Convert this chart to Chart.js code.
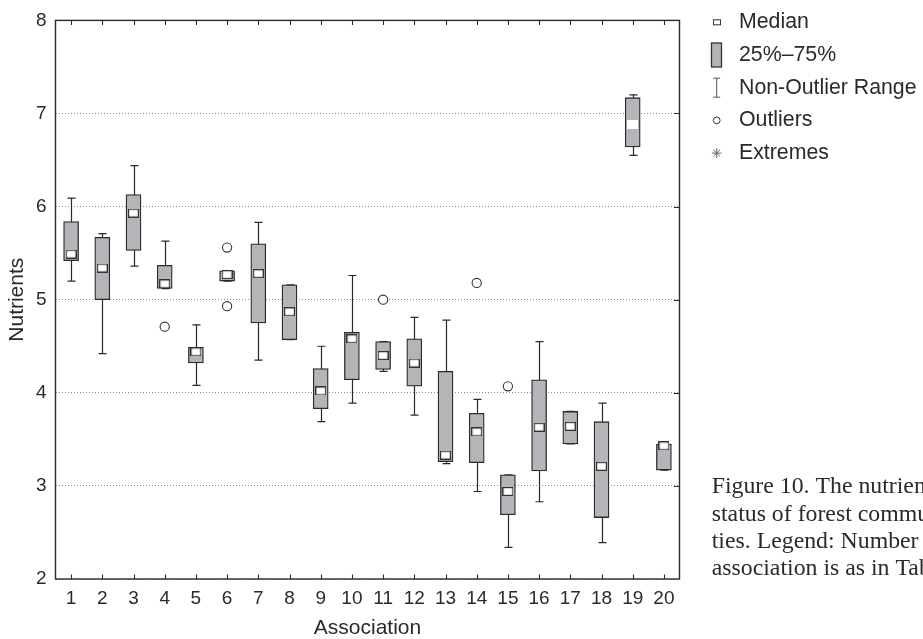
<!DOCTYPE html>
<html>
<head>
<meta charset="utf-8">
<script src="https://cdn.jsdelivr.net/npm/chart.js@4/dist/chart.umd.min.js"></script>
<style>
  html, body { margin: 0; padding: 0; background: #fff; }
  canvas { display: block; }
</style>
</head>
<body>
<canvas id="boxChart" width="923" height="639" style="width:923px;height:639px"></canvas>
<script>
"use strict";

// Association numbers (x categories)
const associations = ["1","2","3","4","5","6","7","8","9","10","11","12","13","14","15","16","17","18","19","20"];

// box plot statistics per association
const whiskerHigh = [6.09, 5.71, 6.44, 5.63, 4.73, 5.31, 5.83, 5.16, 4.50, 5.26, 4.55, 4.81, 4.78, 3.93, 3.12, 4.55, 3.80, 3.89, 7.20, 3.45];
const quartile3   = [5.84, 5.67, 6.13, 5.37, 4.49, 5.31, 5.60, 5.16, 4.26, 4.65, 4.55, 4.58, 4.23, 3.78, 3.12, 4.14, 3.80, 3.69, 7.17, 3.45];
const medians     = [5.49, 5.34, 5.93, 5.17, 4.44, 5.27, 5.28, 4.87, 4.02, 4.58, 4.40, 4.32, 3.33, 3.58, 2.94, 3.63, 3.64, 3.21, 6.88, 3.43];
const quartile1   = [5.42, 5.00, 5.53, 5.12, 4.32, 5.20, 4.75, 4.57, 3.83, 4.14, 4.25, 4.07, 3.26, 3.25, 2.69, 3.16, 3.45, 2.66, 6.64, 3.17];
const whiskerLow  = [5.20, 4.42, 5.36, 5.12, 4.08, 5.20, 4.35, 4.57, 3.69, 3.89, 4.23, 3.76, 3.24, 2.94, 2.34, 2.83, 3.45, 2.39, 6.55, 3.17];

// outliers
const outlierAssoc  = ["4", "6", "6", "11", "14", "15"];
const outlierValues = [4.71, 5.56, 4.93, 5.00, 5.18, 4.07];

// y axis
const yMin = 2;
const yMax = 8;

// legend + caption text
const legendLabels = ["Median", "25%\u201375%", "Non-Outlier Range", "Outliers", "Extremes"];
const captionLines = [
    "Figure 10. The nutrient",
    "status of forest communi-",
    "ties. Legend: Number of",
    "association is as in Table 1."
];

const BOX_FILL = "#b4b5b8";
const INK = "#2a2a2a";
const SANS = '"Liberation Sans", Arial, sans-serif';

Chart.defaults.font.family = SANS;
Chart.defaults.color = INK;

/**
 * Skapar en liten rektangel som punktstil för medianen.
 */
function medianMarker(border) {
    const c = document.createElement("canvas");
    c.width = 11;
    c.height = 9;
    const g = c.getContext("2d");
    g.fillStyle = "#fff";
    g.fillRect(0, 0, 11, 9);
    g.strokeStyle = border;
    g.lineWidth = 1.2;
    g.strokeRect(0.6, 0.6, 9.8, 7.8);
    return c;
}
const markerDark = medianMarker("#333");
const markerPlain = medianMarker("#fff");

/**
 * Ritar morrhår (whiskers) bakom lådorna.
 */
const whiskerPlugin = {
    id: "whiskers",
    beforeDatasetsDraw(chart) {
        const {ctx, scales: {x, y}} = chart;
        ctx.save();
        ctx.strokeStyle = INK;
        ctx.lineWidth = 1.2;
        associations.forEach((a, i) => {
            const px = Math.round(x.getPixelForValue(i)) + 0.5;
            const top = y.getPixelForValue(whiskerHigh[i]);
            const bot = y.getPixelForValue(whiskerLow[i]);
            ctx.beginPath();
            ctx.moveTo(px, top);
            ctx.lineTo(px, bot);
            ctx.moveTo(px - 4, top);
            ctx.lineTo(px + 4, top);
            ctx.moveTo(px - 4, bot);
            ctx.lineTo(px + 4, bot);
            ctx.stroke();
        });
        ctx.restore();
    }
};

/**
 * Ram, inre tickmarkeringar, legend och figurtext.
 */
const framePlugin = {
    id: "frame",
    afterDraw(chart) {
        const {ctx, chartArea: area, scales: {x, y}} = chart;
        ctx.save();

        // frame
        ctx.strokeStyle = INK;
        ctx.lineWidth = 1.4;
        ctx.strokeRect(area.left, area.top, area.right - area.left, area.bottom - area.top);

        // inward ticks
        ctx.lineWidth = 1.1;
        ctx.beginPath();
        associations.forEach((a, i) => {
            const px = Math.round(x.getPixelForValue(i)) + 0.5;
            ctx.moveTo(px, area.bottom);
            ctx.lineTo(px, area.bottom - 4.5);
            ctx.moveTo(px, area.top);
            ctx.lineTo(px, area.top + 4.5);
        });
        for (let v = yMin + 1; v < yMax; v++) {
            const py = Math.round(y.getPixelForValue(v)) + 0.5;
            ctx.moveTo(area.right, py);
            ctx.lineTo(area.right - 5.5, py);
        }
        ctx.stroke();

        // legend
        const lx = 716.7;
        const rows = legendLabels.map((_, i) => 22.3 + i * 32.7);
        ctx.lineWidth = 1;
        ctx.strokeStyle = "#333";
        ctx.strokeRect(713.5, rows[0] - 2.5, 7, 5);

        ctx.fillStyle = BOX_FILL;
        ctx.fillRect(711.5, rows[1] - 12, 10, 24);
        ctx.lineWidth = 1.3;
        ctx.strokeRect(711.5, rows[1] - 12, 10, 24);

        ctx.strokeStyle = "#555";
        ctx.lineWidth = 1;
        ctx.beginPath();
        ctx.moveTo(lx, rows[2] - 9.5);
        ctx.lineTo(lx, rows[2] + 9.5);
        ctx.moveTo(lx - 3.5, rows[2] - 9.5);
        ctx.lineTo(lx + 3.5, rows[2] - 9.5);
        ctx.moveTo(lx - 3.5, rows[2] + 9.5);
        ctx.lineTo(lx + 3.5, rows[2] + 9.5);
        ctx.stroke();

        ctx.strokeStyle = "#333";
        ctx.beginPath();
        ctx.arc(lx, rows[3], 3.4, 0, Math.PI * 2);
        ctx.stroke();

        ctx.strokeStyle = "#666";
        ctx.beginPath();
        for (let k = 0; k < 4; k++) {
            const ang = k * Math.PI / 4;
            ctx.moveTo(lx - 4.8 * Math.cos(ang), rows[4] - 4.8 * Math.sin(ang));
            ctx.lineTo(lx + 4.8 * Math.cos(ang), rows[4] + 4.8 * Math.sin(ang));
        }
        ctx.stroke();

        ctx.fillStyle = INK;
        ctx.font = "21.3px " + SANS;
        ctx.textAlign = "left";
        ctx.textBaseline = "middle";
        legendLabels.forEach((t, i) => ctx.fillText(t, 739, rows[i]));

        // caption
        ctx.font = '23.8px "Liberation Serif", "Times New Roman", serif';
        ctx.textBaseline = "alphabetic";
        captionLines.forEach((t, i) => ctx.fillText(t, 711.7, 493.3 + i * 27.3));

        ctx.restore();
    }
};

new Chart(document.getElementById("boxChart"), {
    type: "bar",
    data: {
        labels: associations,
        datasets: [
            {
                type: "line",
                label: "Median",
                data: medians,
                showLine: false,
                pointStyle: medians.map((m, i) => i === 18 ? markerPlain : markerDark),
                pointRadius: 6,
                order: 1
            },
            {
                type: "line",
                label: "Outliers",
                data: outlierAssoc.map((a, i) => ({x: a, y: outlierValues[i]})),
                showLine: false,
                pointStyle: "circle",
                pointRadius: 4.6,
                pointBackgroundColor: "#fff",
                pointBorderColor: "#333",
                pointBorderWidth: 1.1,
                order: 1
            },
            {
                label: "25%-75%",
                data: quartile1.map((q, i) => [q, quartile3[i]]),
                backgroundColor: BOX_FILL,
                borderColor: INK,
                borderWidth: 1.3,
                borderSkipped: false,
                barThickness: 15,
                order: 3
            }
        ]
    },
    options: {
        responsive: false,
        animation: false,
        events: [],
        layout: {
            padding: {top: 14, right: 243.5, left: 0, bottom: 0}
        },
        plugins: {
            legend: {display: false},
            tooltip: {enabled: false}
        },
        scales: {
            x: {
                type: "category",
                offset: true,
                grid: {display: false, drawTicks: false},
                border: {display: false},
                ticks: {
                    font: {size: 19},
                    color: INK,
                    padding: 8,
                    maxRotation: 0,
                    autoSkip: false
                },
                title: {
                    display: true,
                    text: "Association",
                    font: {size: 21, lineHeight: 1.0},
                    color: INK,
                    padding: {top: 0, bottom: 0}
                },
                afterFit(scale) { scale.height = 60; }
            },
            y: {
                min: yMin,
                max: yMax,
                grid: {
                    color: "#8c8c8c",
                    lineWidth: 1,
                    drawTicks: false,
                    borderDash: [1, 2]
                },
                border: {display: false, dash: [1, 2]},
                ticks: {
                    stepSize: 1,
                    font: {size: 19},
                    color: INK,
                    padding: 9
                },
                title: {
                    display: true,
                    text: "Nutrients",
                    font: {size: 21},
                    color: INK,
                    padding: {top: 5, bottom: 0}
                },
                afterFit(scale) { scale.width = 55.5; }
            }
        }
    },
    plugins: [whiskerPlugin, framePlugin]
});
</script>
</body>
</html>
